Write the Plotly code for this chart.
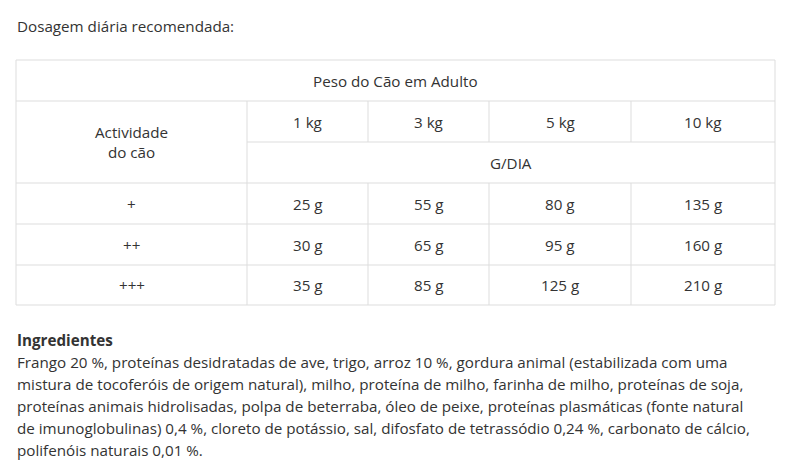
import plotly.graph_objects as go

title = 'Dosagem diária recomendada:'
header = 'Peso do Cão em Adulto'
row_label = 'Actividade<br>do cão'
unit = 'G/DIA'
weights = ['1 kg', '3 kg', '5 kg', '10 kg']
activity = ['+', '++', '+++']
doses = [['25 g', '55 g', '80 g', '135 g'],
         ['30 g', '65 g', '95 g', '160 g'],
         ['35 g', '85 g', '125 g', '210 g']]
ing_title = 'Ingredientes'
ing_lines = [
    'Frango 20 %, proteínas desidratadas de ave, trigo, arroz 10 %, gordura animal (estabilizada com uma',
    'mistura de tocoferóis de origem natural), milho, proteína de milho, farinha de milho, proteínas de soja,',
    'proteínas animais hidrolisadas, polpa de beterraba, óleo de peixe, proteínas plasmáticas (fonte natural',
    'de imunoglobulinas) 0,4 %, cloreto de potássio, sal, difosfato de tetrassódio 0,24 %, carbonato de cálcio,',
    'polifenóis naturais 0,01 %.',
]

# table geometry (pixels)
cols = [16, 247, 368, 489, 631, 775]
rows = [60, 101, 142, 183, 224, 265, 305]
line = dict(color='#dddddd', width=1)
font = dict(family='Open Sans', size=15.2, color='#333333')

fig = go.Figure()
shapes = []
def hl(y, x0, x1):
    shapes.append(dict(type='line', xref='x', yref='y', x0=x0, x1=x1, y0=y, y1=y, line=line))
def vl(x, y0, y1):
    shapes.append(dict(type='line', xref='x', yref='y', x0=x, x1=x, y0=y0, y1=y1, line=line))

for i, y in enumerate(rows):
    hl(y, cols[1] if i == 2 else cols[0], cols[-1])
vl(cols[0], rows[0], rows[-1])
vl(cols[-1], rows[0], rows[-1])
vl(cols[1], rows[1], rows[-1])
for x in cols[2:-1]:
    vl(x, rows[1], rows[2])
    vl(x, rows[3], rows[-1])

ann = []
def txt(x, y, s, xa='center'):
    ann.append(dict(x=x, y=y, xref='x', yref='y', text=s, showarrow=False,
                    xanchor=xa, yanchor='middle', font=font))

txt(15, 26, title, 'left')
txt((cols[0] + cols[-1]) / 2, (rows[0] + rows[1]) / 2, header)
txt((cols[0] + cols[1]) / 2, (rows[1] + rows[3]) / 2, row_label)
txt((cols[1] + cols[-1]) / 2, (rows[2] + rows[3]) / 2, unit)
for j, w in enumerate(weights):
    txt((cols[j + 1] + cols[j + 2]) / 2, (rows[1] + rows[2]) / 2, w)
for i, a in enumerate(activity):
    yc = (rows[3 + i] + rows[4 + i]) / 2
    txt((cols[0] + cols[1]) / 2, yc, a)
    for j, d in enumerate(doses[i]):
        txt((cols[j + 1] + cols[j + 2]) / 2, yc, d)

txt(15, 340, '<b>' + ing_title + '</b>', 'left')
for k, s in enumerate(ing_lines):
    txt(15, 362 + 22 * k, s, 'left')

# page body margin shifts the figure by 8px, compensate in the axis ranges
fig.update_layout(
    width=800, height=473, margin=dict(l=0, r=0, t=0, b=0),
    paper_bgcolor='white', plot_bgcolor='white',
    shapes=shapes, annotations=ann,
    xaxis=dict(range=[8, 808], visible=False, fixedrange=True),
    yaxis=dict(range=[481, 8], visible=False, fixedrange=True),
)
fig.write_html('out.html')
